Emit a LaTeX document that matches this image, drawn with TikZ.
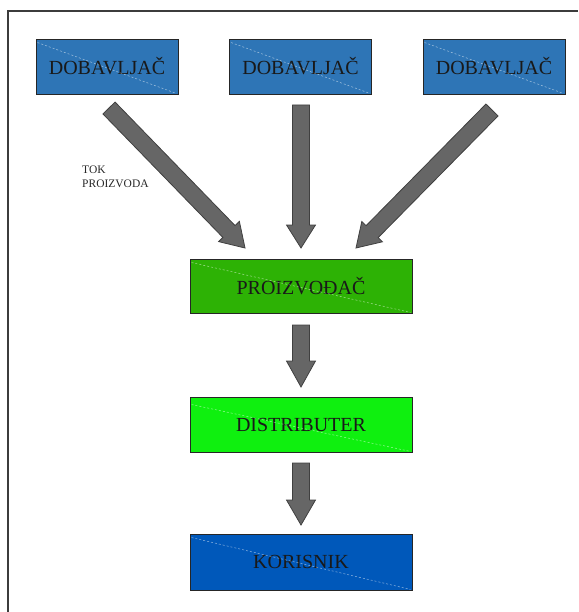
\documentclass[tikz,border=0pt]{standalone}
\usepackage{fontspec}
\setmainfont{Liberation Serif}
\usetikzlibrary{calc}
\definecolor{supblue}{RGB}{46,117,182}
\definecolor{prodgreen}{RGB}{45,178,5}
\definecolor{distgreen}{RGB}{15,240,15}
\definecolor{custblue}{RGB}{0,88,186}
\definecolor{arrgray}{RGB}{102,102,102}
\definecolor{framegray}{RGB}{60,60,60}
\newcommand\blockarrow[3]{%
  \coordinate (ba-h) at ($(#2)!#3pt!(#1)$);
  \draw[blockarr] ($(#1)!8.5pt!90:(#2)$) -- ($(ba-h)!8.5pt!90:(#2)$)
    -- ($(ba-h)!14.5pt!90:(#2)$) -- (#2) -- ($(ba-h)!14.5pt!-90:(#2)$)
    -- ($(ba-h)!8.5pt!-90:(#2)$) -- ($(#1)!8.5pt!-90:(#2)$) -- cycle;
}
\tikzset{
  boxnode/.style={draw=black!85, line width=0.9pt, inner sep=0pt, font=\fontsize{20}{22}\selectfont, text=black!90},
  supbox/.style={boxnode, fill=supblue, minimum width=142pt, minimum height=55pt},
  wide/.style={boxnode, minimum width=222pt, minimum height=54pt},
  blockarr/.style={fill=arrgray, draw=black!75, line width=0.8pt, line join=miter},
  diag/.style={white, opacity=0.55, dashed, line width=0.5pt, dash pattern=on 2pt off 2pt},
  lbl/.style={font=\fontsize{11.5}{14}\selectfont, align=left, inner sep=0pt, anchor=north west, text=black!85}
}
\begin{document}
\begin{tikzpicture}[x=1pt, y=-1pt]
\useasboundingbox (0,0) rectangle (578,612);
% frame
\draw[framegray, line width=1.3pt] (8,612) -- (8,11) -- (578,11);
% boxes
\node[supbox] (d1) at (107,66.5) {DOBAVLJAČ};
\node[supbox] (d2) at (300.5,66.5) {DOBAVLJAČ};
\node[supbox] (d3) at (494,66.5) {DOBAVLJAČ};
\node[wide, fill=prodgreen] (p) at (301,286) {PROIZVOĐAČ};
\node[wide, fill=distgreen, minimum height=55pt] (di) at (301,424.5) {DISTRIBUTER};
\node[wide, fill=custblue, minimum height=56pt] (k) at (301,562) {KORISNIK};
% faint diagonals
\foreach \n in {d1,d2,d3,p,k}{
  \draw[diag] ($(\n.north west)+(2,4)$) -- ($(\n.south east)+(-2,-1)$);
}
\draw[diag] ($(di.north west)+(2,8)$) -- ($(di.south east)+(-2,-1)$);
% arrow end points
\coordinate (a1s) at (109,108);
\coordinate (a1e) at (245,248);
\coordinate (a2s) at (301,105);
\coordinate (a2e) at (301,248);
\coordinate (a3s) at (492,110);
\coordinate (a3e) at (356,248);
\coordinate (a4s) at (301,325);
\coordinate (a4e) at (301,387);
\coordinate (a5s) at (301,463);
\coordinate (a5e) at (301,525);
\blockarrow{a1s}{a1e}{23}
\blockarrow{a2s}{a2e}{23}
\blockarrow{a3s}{a3e}{23}
\blockarrow{a4s}{a4e}{26}
\blockarrow{a5s}{a5e}{25}
% label
\node[lbl] (tok) at (82,166) {TOK\\PROIZVODA};
\end{tikzpicture}
\end{document}
